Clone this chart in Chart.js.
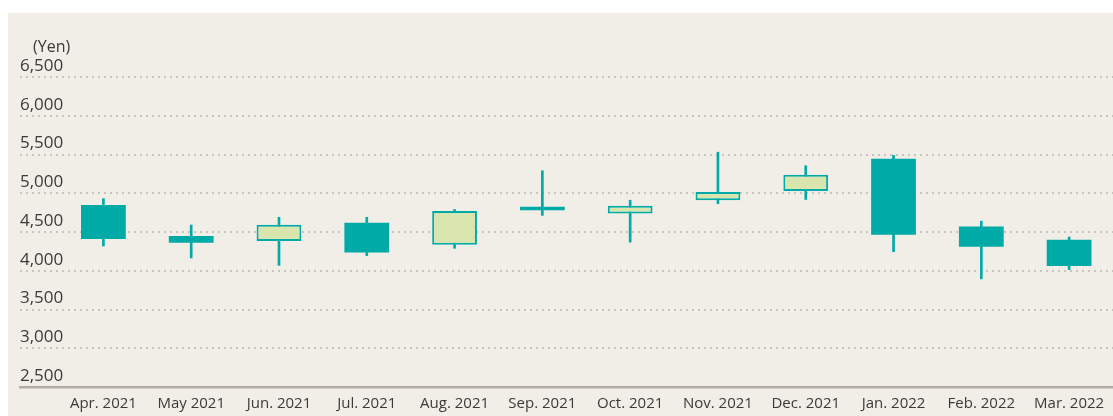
<!DOCTYPE html>
<html>
<head>
<meta charset="utf-8">
<script src="https://cdn.jsdelivr.net/npm/chart.js@4.4.1/dist/chart.umd.min.js"></script>
<style>
  html, body { margin: 0; padding: 0; background: #ffffff; }
  #wrap { width: 1113px; height: 416px; position: relative; }
</style>
</head>
<body>
<div id="wrap"><canvas id="c" width="1113" height="416"></canvas></div>
<script>
// ---- Data ----
const months = ['Apr. 2021','May 2021','Jun. 2021','Jul. 2021','Aug. 2021','Sep. 2021',
                'Oct. 2021','Nov. 2021','Dec. 2021','Jan. 2022','Feb. 2022','Mar. 2022'];
const openPrices  = [4850, 4450, 4385, 4620, 4335, 4825, 4740, 4910, 5030, 5445, 4570, 4400];
const highPrices  = [4930, 4590, 4690, 4690, 4790, 5290, 4910, 5530, 5355, 5490, 4640, 4435];
const lowPrices   = [4320, 4165, 4070, 4195, 4290, 4715, 4370, 4865, 4920, 4245, 3895, 4015];
const closePrices = [4410, 4360, 4595, 4235, 4770, 4780, 4840, 5015, 5240, 4465, 4310, 4060];
const yTicks = [2500, 3000, 3500, 4000, 4500, 5000, 5500, 6000, 6500];
const yUnit = '(Yen)';

// ---- Styles ----
const TEAL = '#00aaa6';
const UPFILL = '#d8e6ad';
const BG = '#f1eee8';
const TEXT = '#3a3a3a';

const bodies = months.map((m, i) => ({ x: i, y: [openPrices[i], closePrices[i]] }));
const wicks  = months.map((m, i) => ({ x: i, y: [lowPrices[i], highPrices[i]] }));
const isUp = months.map((m, i) => closePrices[i] >= openPrices[i]);

const bgPlugin = {
  id: 'bg',
  beforeDraw(chart) {
    const ctx = chart.ctx;
    ctx.save();
    ctx.fillStyle = BG;
    ctx.fillRect(8, 13, chart.width - 8, chart.height - 13);
    ctx.restore();
  },
  afterDraw(chart) {
    const ctx = chart.ctx;
    const a = chart.chartArea;
    ctx.save();
    ctx.fillStyle = TEXT;
    ctx.font = '16px "Open Sans"';
    ctx.textAlign = 'left';
    ctx.textBaseline = 'middle';
    ctx.fillText(yUnit, a.left + 13, a.top - 30);
    ctx.restore();
  }
};

new Chart(document.getElementById('c'), {
  type: 'bar',
  data: {
    datasets: [
      {
        label: 'Body',
        data: bodies,
        backgroundColor: isUp.map(u => u ? UPFILL : TEAL),
        borderColor: TEAL,
        borderWidth: isUp.map(u => u ? 2 : 0),
        borderSkipped: false,
        grouped: false,
        categoryPercentage: 1,
        barPercentage: 0.51,
        order: 1
      },
      {
        label: 'Wick',
        data: wicks,
        backgroundColor: TEAL,
        borderWidth: 0,
        grouped: false,
        barThickness: 2,
        order: 2
      }
    ]
  },
  options: {
    responsive: false,
    animation: false,
    events: [],
    layout: { padding: { left: 20, right: 0, top: 77, bottom: 3 } },
    plugins: { legend: { display: false }, tooltip: { enabled: false }, title: { display: false } },
    scales: {
      x: {
        type: 'linear',
        min: -0.95,
        max: 11.5,
        offset: false,
        afterFit: (s) => { s.height = 26; },
        grid: { display: false, drawTicks: false },
        border: { display: true, color: '#b4aba6', width: 2.5 },
        ticks: {
          stepSize: 1,
          includeBounds: false,
          autoSkip: false,
          maxRotation: 0,
          padding: 8,
          color: TEXT,
          font: { family: '"Open Sans"', size: 15 },
          callback: (v) => Number.isInteger(v) && months[v] !== undefined ? months[v] : ''
        }
      },
      y: {
        type: 'linear',
        min: yTicks[0],
        max: yTicks[yTicks.length - 1],
        afterBuildTicks: (scale) => { scale.ticks = yTicks.map(v => ({ value: v })); },
        grid: { display: true, drawTicks: false, color: '#c9c4be', lineWidth: 2 },
        border: { display: false, dash: [2, 4] },
        ticks: {
          mirror: true,
          padding: 0,
          labelOffset: -11,
          color: TEXT,
          font: { family: '"Open Sans"', size: 17 },
          callback: (v) => v.toLocaleString('en-US')
        }
      }
    }
  },
  plugins: [bgPlugin]
});
</script>
</body>
</html>
